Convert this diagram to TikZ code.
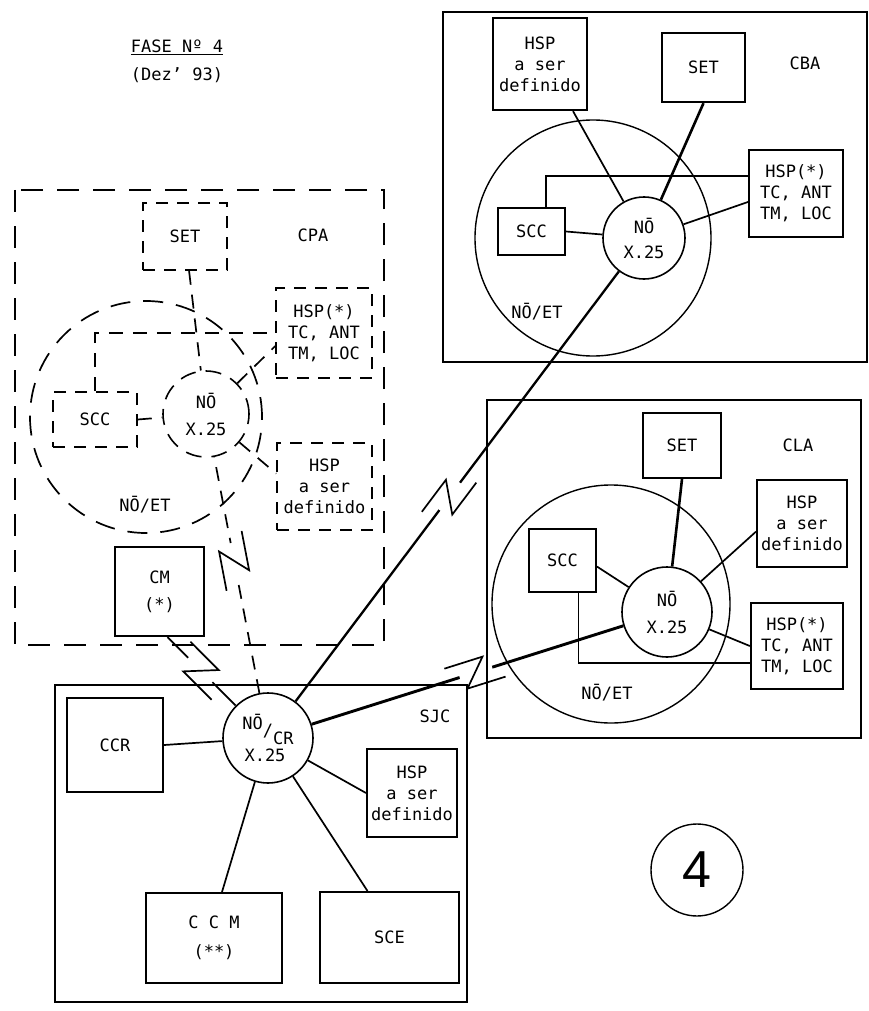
\documentclass[tikz,border=0pt]{standalone}
\usepackage{fontspec}
\setmainfont{DejaVu Sans Mono}
\newfontfamily\bignum{Liberation Sans}
\usetikzlibrary{positioning,decorations.markings}
\tikzset{
  txt/.style={font=\fontsize{17}{21}\selectfont, inner sep=0pt, align=center},
  hwbox/.style={txt, draw, line width=2pt},
  dbox/.style={txt, draw, line width=1.6pt, dash pattern=on 12pt off 9pt},
  nodex/.style={txt, circle, draw, line width=1.6pt, minimum size=#1},
  ring/.style={circle, draw, line width=1.4pt, minimum size=#1, inner sep=0pt},
  dring/.style={ring=#1, line width=1.7pt, dash pattern=on 20pt off 13pt},
  radio/.style={postaction={decorate},
    decoration={markings, mark=at position #1 with {
      \fill[white] (-16pt,-3.5pt) rectangle (18pt,3.5pt);
      \draw[solid, line width=1.7pt] (-28pt,13pt) -- (12pt,13pt)
            -- (-12pt,-13pt) -- (28pt,-13pt);}}}
}
\begin{document}
\begin{tikzpicture}[x=1pt, y=-1pt,
  lnk/.style={line width=1.7pt},
  hvy/.style={line width=2.6pt},
  dlnk/.style={line width=1.7pt, dash pattern=on 14pt off 10pt},
  site/.style={line width=1.3pt},
  dsite/.style={line width=1.7pt, dash pattern=on 22pt off 14pt}
]
\useasboundingbox (0,0) rectangle (869,1011);

% titulo
\node[txt] (fase) at (177,47) {\underline{FASE Nº 4}};
\node[txt] (dez) at (177,75) {(Dez' 93)};

% CBA
\node[ring=236pt] (cbaet) at (593,238) {};
\node[hwbox, line width=2.3pt, minimum width=94pt, minimum height=92pt] (cbahsp) at (540,64) {HSP\\a ser\\definido};
\node[hwbox, line width=2.3pt, minimum width=83pt, minimum height=69pt] (cbaset) at (703.5,67.5) {SET};
\node[hwbox, minimum width=67pt, minimum height=47pt] (cbascc) at (531.5,231.5) {SCC};
\node[hwbox, minimum width=94pt, minimum height=87pt] (cbahspx) at (796,193.5) {HSP(*)\\TC, ANT\\TM, LOC};
\node[nodex=82pt] (cbano) at (644,238) {NŌ\\[4pt]X.25};
\node[txt] (cbalbl) at (805,63) {CBA};
\node[txt] (cbaetlbl) at (537,312) {NŌ/ET};

\draw[lnk] (cbahsp.305) -- (cbano);
\draw[hvy] (cbaset.south) -- (cbano);
\draw[lnk] (cbascc.60) |- (cbahspx.160);
\draw[lnk] (cbahspx.190) -- (cbano);
\draw[lnk] (cbascc.east) -- (cbano);

% CLA
\node[ring=238pt] (claet) at (611,604) {};
\node[hwbox, line width=2.3pt, minimum width=78pt, minimum height=65pt] (claset) at (682,445.5) {SET};
\node[hwbox, minimum width=90pt, minimum height=87pt] (clahsp) at (802,523.5) {HSP\\a ser\\definido};
\node[hwbox, minimum width=67pt, minimum height=63pt] (clascc) at (562.5,560.5) {SCC};
\node[hwbox, line width=2.3pt, minimum width=92pt, minimum height=86pt] (clahspx) at (797,646) {HSP(*)\\TC, ANT\\TM, LOC};
\node[nodex=90pt] (clano) at (667,612) {NŌ\\[6pt]X.25};
\node[txt] (clalbl) at (798,445) {CLA};
\node[txt] (claetlbl) at (607,693) {NŌ/ET};

\draw[hvy] (claset.south) -- (clano);
\draw[lnk] (clahsp.190) -- (clano);
\draw[lnk] (clahspx.west) -- (clano);
\draw[lnk] (clascc.296) |- (clahspx.200);
\draw[lnk] (clascc.350) -- (clano);

% CPA (tracejado)
\node[dring=232pt] (cpaet) at (146,417) {};
\node[dbox, minimum width=84pt, minimum height=67pt] (cpaset) at (185,236.5) {SET};
\node[dbox, minimum width=96pt, minimum height=90pt] (cpahspx) at (324,333) {HSP(*)\\TC, ANT\\TM, LOC};
\node[dbox, minimum width=95pt, minimum height=87pt] (cpahsp) at (324.5,486.5) {HSP\\a ser\\definido};
\node[dbox, minimum width=84pt, minimum height=55pt] (cpascc) at (95,419.5) {SCC};
\node[nodex=86pt, dash pattern=on 16pt off 10pt] (cpano) at (206,414) {NŌ\\[6pt]X.25};
\node[hwbox, line width=2.3pt, minimum width=89pt, minimum height=89pt] (cm) at (159.5,591.5) {CM\\[6pt](*)};
\node[txt] (cpalbl) at (313,235) {CPA};
\node[txt] (cpaetlbl) at (145,505) {NŌ/ET};

\draw[dlnk] (cpaset) -- (cpano);
\draw[dlnk] (cpascc.north) |- (cpahspx.west);
\draw[dlnk] (cpano) -- (cpahspx.195);
\draw[dlnk] (cpano) -- (cpahsp.165);
\draw[dlnk] (cpascc.east) -- (cpano);

% SJC
\node[nodex=90pt] (sjcno) at (268,738) {NŌ\raisebox{-7pt}{/}\raisebox{-15pt}{CR}\\[3pt]X.25\hspace*{6pt}};
\node[hwbox, line width=2.3pt, minimum width=96pt, minimum height=94pt] (ccr) at (115,745) {CCR};
\node[hwbox, minimum width=90pt, minimum height=88pt] (sjchsp) at (412,793) {HSP\\a ser\\definido};
\node[hwbox, minimum width=136pt, minimum height=90pt] (ccm) at (214,938) {C C M\\[8pt](**)};
\node[hwbox, minimum width=139pt, minimum height=91pt] (sce) at (389.5,937.5) {SCE};
\node[txt] (sjclbl) at (435,716) {SJC};

\draw[lnk] (ccr.east) -- (sjcno);
\draw[lnk] (sjcno) -- (sjchsp.west);
\draw[lnk] (sjcno) -- ([xshift=8pt]ccm.north);
\draw[lnk] (sjcno) -- ([xshift=-22pt]sce.north);

% enlaces entre sitios
\draw[hvy, line width=2.3pt, radio=0.475] (sjcno) -- (cbano);
\draw[hvy, line width=2.9pt, radio=0.524] (sjcno) -- (clano);
\draw[dlnk, radio=0.56] (sjcno) -- (cpano);
\draw[lnk, radio=0.51] (sjcno) -- (cm.280);

% contornos dos sitios
\draw[site] (443,12) rectangle (867,362);
\draw[site] (487,400) rectangle (861,738);
\draw[site] (55,685) rectangle (467,1002);
\draw[dsite] (15,190) rectangle (384,645);

\node[circle, draw, line width=1.4pt, minimum size=92pt, inner sep=0pt,
      font=\bignum\fontsize{52}{52}\selectfont] (fasenum) at (697,870) {4};
\end{tikzpicture}
\end{document}
